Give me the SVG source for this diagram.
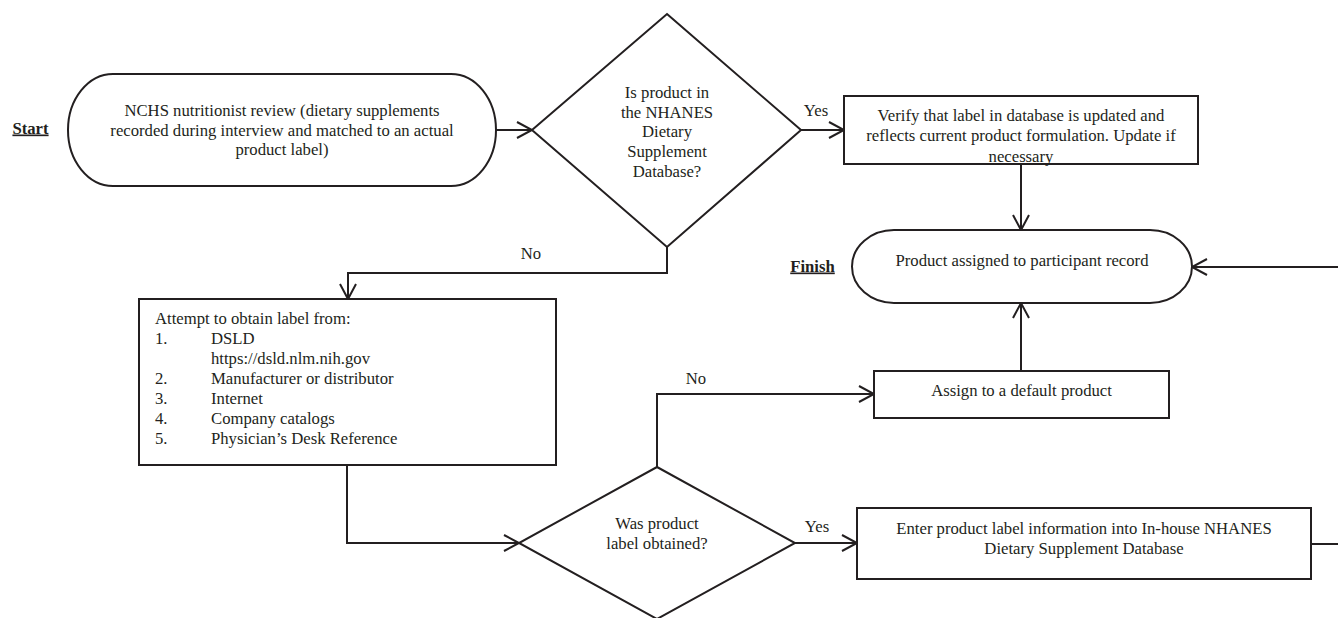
<svg xmlns="http://www.w3.org/2000/svg" width="1338" height="618" viewBox="0 0 1338 618">
<defs>
<marker id="arr" markerUnits="userSpaceOnUse" markerWidth="20" markerHeight="20" viewBox="-16 -10 20 20" refX="0" refY="0" orient="auto">
<path d="M-15,-8 L0,0 L-15,8" fill="none" stroke="#231f20" stroke-width="2"/>
</marker>
<style>
.shape{fill:#fff;stroke:#231f20;stroke-width:2}
.con{fill:none;stroke:#231f20;stroke-width:2}
text{font-family:"Liberation Serif","Times New Roman",serif;font-size:16.7px;fill:#231f20}
.c{text-anchor:middle}
.lbl{font-weight:bold;text-decoration:underline}
</style>
</defs>
<rect width="1338" height="618" fill="#fff"/>

<g id="connectors">
<path class="con" d="M496,130 L532,130" marker-end="url(#arr)"/>
<path class="con" d="M801,130 L844,130" marker-end="url(#arr)"/>
<path class="con" d="M667,247 L667,273 L348,273 L348,299" marker-end="url(#arr)"/>
<path class="con" d="M1021,164 L1021,230" marker-end="url(#arr)"/>
<path class="con" d="M1338,267 L1192,267" marker-end="url(#arr)"/>
<path class="con" d="M347,465 L347,543 L519,543" marker-end="url(#arr)"/>
<path class="con" d="M657,467 L657,394 L874,394" marker-end="url(#arr)"/>
<path class="con" d="M1021,371 L1021,303" marker-end="url(#arr)"/>
<path class="con" d="M795,543 L857,543" marker-end="url(#arr)"/>
<path class="con" d="M1311,544 L1338,544"/>
<text class="c" x="816" y="115.5">Yes</text>
<text class="c" x="531" y="258.5">No</text>
<text class="c" x="696" y="383.5">No</text>
<text class="c" x="817" y="531.5">Yes</text>
</g>

<g id="start-label"><text class="c lbl" x="30.5" y="133.5">Start</text></g>
<g id="finish-label"><text class="c lbl" x="812.5" y="271.5">Finish</text></g>

<g id="start">
<rect class="shape" x="68" y="74" width="428" height="112" rx="45" ry="56"/>
<text class="c" x="282" y="116">NCHS nutritionist review (dietary supplements</text>
<text class="c" x="282" y="136">recorded during interview and matched to an actual</text>
<text class="c" x="282" y="155">product label)</text>
</g>

<g id="decision1">
<polygon class="shape" points="667,14 801,130 667,247 532,130"/>
<text class="c" x="667" y="98">Is product in</text>
<text class="c" x="667" y="118">the NHANES</text>
<text class="c" x="667" y="137">Dietary</text>
<text class="c" x="667" y="157">Supplement</text>
<text class="c" x="667" y="177">Database?</text>
</g>

<g id="verify">
<rect class="shape" x="844" y="96" width="354" height="68"/>
<text class="c" x="1021" y="120.5">Verify that label in database is updated and</text>
<text class="c" x="1021" y="140.5">reflects current product formulation. Update if</text>
<text class="c" x="1021" y="161.5">necessary</text>
</g>

<g id="finish">
<rect class="shape" x="852" y="230" width="340" height="73" rx="42" ry="36.5"/>
<text class="c" x="1022" y="265.5">Product assigned to participant record</text>
</g>

<g id="attempt">
<rect class="shape" x="139" y="299" width="417" height="166"/>
<text x="155" y="323.5">Attempt to obtain label from:</text>
<text x="155" y="343.5">1.</text><text x="211" y="343.5">DSLD</text>
<text x="211" y="363.5">https://dsld.nlm.nih.gov</text>
<text x="155" y="383.5">2.</text><text x="211" y="383.5">Manufacturer or distributor</text>
<text x="155" y="403.5">3.</text><text x="211" y="403.5">Internet</text>
<text x="155" y="424">4.</text><text x="211" y="424">Company catalogs</text>
<text x="155" y="444">5.</text><text x="211" y="444">Physician’s Desk Reference</text>
</g>

<g id="assign">
<rect class="shape" x="874" y="371" width="295" height="47"/>
<text class="c" x="1021.5" y="395.5">Assign to a default product</text>
</g>

<g id="decision2">
<polygon class="shape" points="657,467 795,543 657,619 519,543"/>
<text class="c" x="657" y="528.5">Was product</text>
<text class="c" x="657" y="548.5">label obtained?</text>
</g>

<g id="enter">
<rect class="shape" x="857" y="508" width="454" height="71"/>
<text class="c" x="1084" y="533.5">Enter product label information into In-house NHANES</text>
<text class="c" x="1084" y="553.5">Dietary Supplement Database</text>
</g>
</svg>
